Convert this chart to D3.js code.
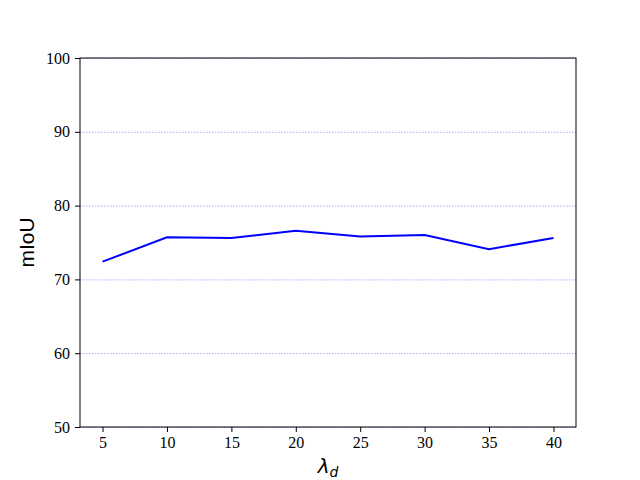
<!DOCTYPE html>
<html>
<head>
<meta charset="utf-8">
<script src="https://d3js.org/d3.v7.min.js"></script>
<style>
  body { margin: 0; background: #fff; }
  .tick text { font-family: "Liberation Serif", "Times New Roman", serif; font-size: 16px; fill: #000; }
</style>
</head>
<body>
<svg id="chart" width="640" height="480"></svg>
<script>
var lambdas = [5, 10, 15, 20, 25, 30, 35, 40];
var miou = [72.4, 75.7, 75.6, 76.6, 75.8, 76.0, 74.1, 75.6];
var yTicks = [50, 60, 70, 80, 90, 100];

var svg = d3.select("#chart");
var margin = {left: 80, right: 64, top: 58, bottom: 53};
var width = 640 - margin.left - margin.right,
    height = 480 - margin.top - margin.bottom;

var x = d3.scaleLinear().domain([3.25, 41.75]).range([0, width]);
var y = d3.scaleLinear().domain([50, 100]).range([height, 0]);

var g = svg.append("g").attr("transform", "translate(" + margin.left + "," + margin.top + ")");

// dotted grid
g.selectAll(".grid")
    .data(yTicks)
    .enter().append("line")
    .attr("x1", 0).attr("x2", width)
    .attr("y1", function(d) { return y(d) + 0.5; })
    .attr("y2", function(d) { return y(d) + 0.5; })
    .attr("stroke", "#a8a8ff")
    .attr("stroke-width", 1)
    .attr("stroke-dasharray", "1.5,1.5");

var line = d3.line()
    .x(function(d, i) { return x(lambdas[i]); })
    .y(function(d) { return y(d); });

g.append("path")
    .datum(miou)
    .attr("fill", "none")
    .attr("stroke", "blue")
    .attr("stroke-width", 2)
    .attr("d", line);

var xAxis = g.append("g")
    .attr("transform", "translate(0," + height + ")")
    .call(d3.axisBottom(x).tickValues(lambdas).tickSizeInner(5).tickSizeOuter(0).tickPadding(5));
var yAxis = g.append("g")
    .call(d3.axisLeft(y).tickValues(yTicks).tickSizeInner(5).tickSizeOuter(0).tickPadding(5));

g.selectAll(".domain").remove();
g.append("rect")
    .attr("width", width).attr("height", height)
    .attr("fill", "none").attr("stroke", "#000").attr("stroke-width", 1);

svg.append("text")
    .attr("transform", "translate(34," + (margin.top + height / 2) + ") rotate(-90)")
    .attr("text-anchor", "middle")
    .style("font-family", "'Liberation Sans', Arial, sans-serif")
    .style("font-size", "21px")
    .text("mIoU");

var xl = svg.append("text")
    .attr("x", margin.left + width / 2)
    .attr("y", 473)
    .attr("text-anchor", "middle")
    .style("font-family", "'DejaVu Sans', sans-serif")
    .style("font-size", "20px")
    .style("font-style", "italic");
xl.append("tspan").text("λ");
xl.append("tspan").attr("dy", 4).style("font-size", "14px").text("d");
</script>
</body>
</html>
